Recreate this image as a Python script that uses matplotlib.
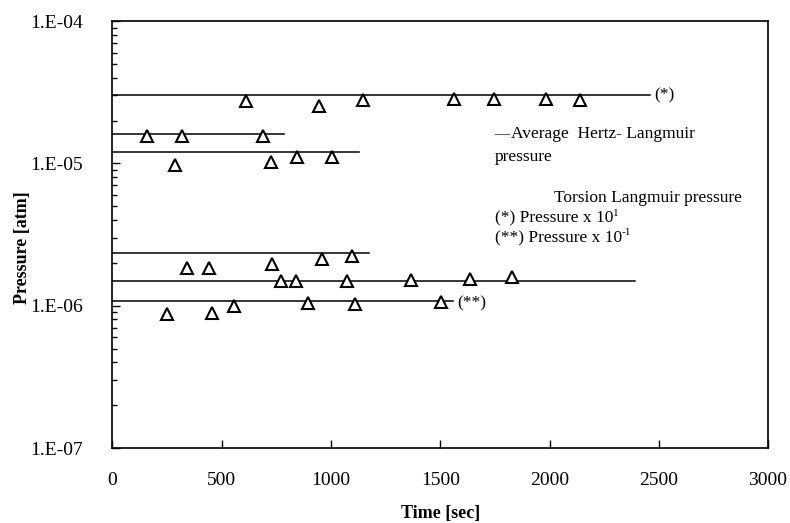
import matplotlib
matplotlib.use("Agg")
import matplotlib.pyplot as plt
import numpy as np

plt.rcParams['font.family'] = ['Liberation Serif', 'DejaVu Serif']

# average Hertz-Langmuir pressure lines: (level, end time)
avg_levels = [3.0e-5, 1.6e-5, 1.2e-5, 2.35e-6, 1.49e-6, 1.08e-6]
avg_ends = [2460, 787, 1126, 1175, 2389, 1558]

# torsion Langmuir points, one list per run
t_a = [610, 946, 1146, 1564, 1744, 1984, 2138]
p_a = [2.73e-5, 2.52e-5, 2.79e-5, 2.85e-5, 2.85e-5, 2.85e-5, 2.77e-5]

t_b = [157, 320, 691]
p_b = [1.55e-5, 1.55e-5, 1.55e-5]

t_c = [288, 726, 845, 1005]
p_c = [9.8e-6, 1.02e-5, 1.10e-5, 1.11e-5]

t_d = [343, 440, 732, 961, 1096]
p_d = [1.85e-6, 1.85e-6, 1.95e-6, 2.12e-6, 2.24e-6]

t_e = [769, 841, 1071, 1366, 1638, 1829]
p_e = [1.49e-6, 1.49e-6, 1.50e-6, 1.52e-6, 1.55e-6, 1.58e-6]

t_f = [250, 454, 555, 894, 1111, 1505]
p_f = [8.7e-7, 8.95e-7, 9.97e-7, 1.04e-6, 1.02e-6, 1.06e-6]

ytick_vals = [1e-7, 1e-6, 1e-5, 1e-4]
ytick_labels = ['1.E-07', '1.E-06', '1.E-05', '1.E-04']
xtick_vals = [0, 500, 1000, 1500, 2000, 2500, 3000]

fig = plt.figure(figsize=(7.9, 5.23), dpi=100)
ax = fig.add_axes([0.1424, 0.1434, 0.8298, 0.8164])

for lvl, end in zip(avg_levels, avg_ends):
    ax.plot([0, end], [lvl, lvl], color='black', linewidth=1.1)

for t, p in [(t_a, p_a), (t_b, p_b), (t_c, p_c), (t_d, p_d), (t_e, p_e), (t_f, p_f)]:
    ax.plot(t, p, linestyle='none', marker='^', markersize=9,
            markerfacecolor='white', markeredgecolor='black', markeredgewidth=1.5)

ax.set_yscale('log')
ax.set_xlim(0, 3000)
ax.set_ylim(1e-7, 1e-4)
ax.set_yticks(ytick_vals)
ax.set_yticklabels(ytick_labels)
ax.set_xticks(xtick_vals)
ax.set_xticklabels([str(v) for v in xtick_vals])
ax.tick_params(axis='both', which='major', direction='in', length=6, width=1,
               labelsize=14, top=False, right=False)
ax.tick_params(axis='y', which='major', pad=21)
ax.tick_params(axis='x', which='major', pad=17)
ax.tick_params(axis='y', which='minor', direction='in', length=3.5, width=1, right=False)
for s in ax.spines.values():
    s.set_linewidth(1.2)

ax.set_xlabel('Time [sec]', fontsize=13, fontweight='bold', labelpad=12)
ax.set_ylabel('Pressure [atm]', fontsize=13, fontweight='bold')
ax.yaxis.set_label_coords(-0.125, 0.47)

# annotations
ax.text(2480, 3.0e-5, '(*)', fontsize=12.5, va='center', ha='left')
ax.text(1580, 1.04e-6, '(**)', fontsize=12.5, va='center', ha='left')

ax.plot([1750, 1815], [1.6e-5, 1.6e-5], color='#666666', linewidth=0.8)
ax.text(1822, 1.6e-5, 'Average  Hertz- Langmuir', fontsize=12.5, va='center', ha='left')
ax.text(1750, 1.11e-5, 'pressure', fontsize=12.5, va='center', ha='left')
ax.text(2020, 5.7e-6, 'Torsion Langmuir pressure', fontsize=12.5, va='center', ha='left')
s1 = ax.text(1750, 4.1e-6, '(*) Pressure x 10', fontsize=12.5, va='center', ha='left')
s2 = ax.text(1750, 2.98e-6, '(**) Pressure x 10', fontsize=12.5, va='center', ha='left')
ax.annotate('1', xy=(1.0, 0.55), xycoords=s1, fontsize=8, va='bottom', ha='left')
ax.annotate('-1', xy=(1.0, 0.55), xycoords=s2, fontsize=8, va='bottom', ha='left')

fig.savefig('out.png', dpi=100)
